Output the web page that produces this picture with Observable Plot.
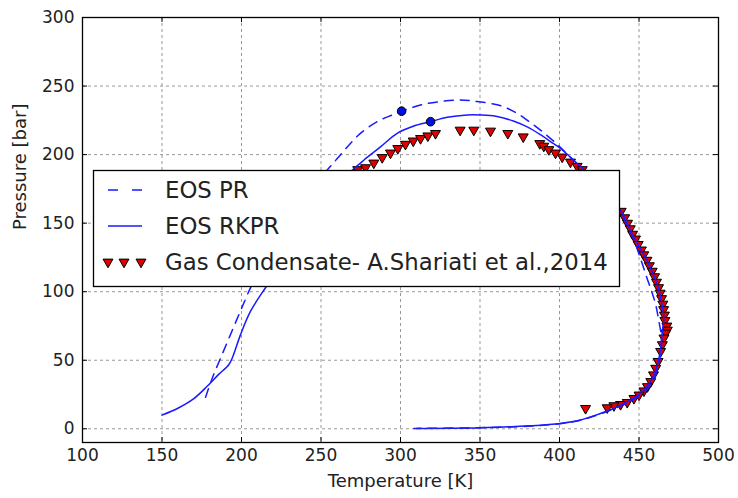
<!DOCTYPE html>
<html><head><meta charset="utf-8">
<script src="https://cdn.jsdelivr.net/npm/d3@7"></script>
<script src="https://cdn.jsdelivr.net/npm/@observablehq/plot@0.6"></script>
<style>body{margin:0;background:#fff}#chart{width:738px;height:498px}</style>
</head><body><div id="chart"></div>
<script>
// Tick values
const xTicks = [100,150,200,250,300,350,400,450,500];
const yTicks = [0,50,100,150,200,250,300];
const xGrid = [150,200,250,300,350,400,450];
const yGrid = [0,50,100,150,200,250];

// EOS PR (dashed) envelope
const prT = [177.4,181.6,187,193,199,205.7,215,228,242,253.9,260.2,266.5,274.8,285.3,294.8,301.1,312.6,325.2,337.7,348.2,362,372,381,390,398,406,414,426,438,446,451,455,458,460.4,462.5,464,464,462.5,460,456,450,443,434,425,413,400,382,350,310];
const prP = [23,36.9,52,68.5,85,103,125,150,172,188.8,197.1,205.6,215.5,224,228.9,231.8,236.2,238.7,239.9,238.7,236,231,224,216,208,199,190,175,158,140,124,110,100,91,78.5,68,58,48,38,30,24,19,14.5,10.5,6.2,3.7,2,0.8,0.3];

// EOS RKPR (solid) envelope
const rkT = [150,160,170,178.4,185.5,192,194.2,199.4,205.7,215.1,230,245,258,269.6,276.9,287.4,297.9,308.4,318.9,329.4,342,350.3,360,371,380,388,395,400.6,406,411.1,417.4,425,432,438.4,446.8,455.1,461.4,464.5,465.6,464.7,463.6,461.6,457.4,451,442.6,434.2,425.8,413.2,400.6,381.8,350.3,308.4];
const rkP = [10,15,22,31,39.5,46.7,51.6,68.7,85.8,102.9,128,155,175,188.6,195.9,205.6,215.5,220.8,224,227.2,228.9,228.9,228,224.5,220,214.5,209,204.5,199,193.5,187,178,168,159.2,139.6,122.5,105.4,90.8,80,71.2,58.9,46.7,34.5,25.9,19.8,14.9,11.2,6.4,3.9,2.2,0.7,0.2];

// Experimental: Gas Condensate - A.Shariati et al., 2014
const expT = [273.1,278,283.2,288.5,293.7,298.3,303.1,308,312.6,317.2,322,337.5,346.1,356.6,367.5,377.2,387.6,390.1,393.3,397.5,401.7,406.9,411.1,414.3,438.8,441,442.8,444.5,446,447.8,449.5,451.5,453,455,456.5,458.3,459.8,461,462.3,463.3,464.2,465,465.5,466,466.3,467.5,467.8,466.8,465.7,464.7,463.6,462,460.5,459.1,457.4,455.3,453.1,450,446.8,442.6,438.4,434.2,430,416.4];
const expP = [189.1,190.5,193.9,197.9,201.2,204.5,207.6,210,211.8,213.7,215.5,217.9,217.9,217.2,215.5,213,208.1,206.2,203.7,201.2,198.3,194.6,191.5,189.1,158.7,154,150,146,142,138.5,134.5,130.5,127,123,119,115,111,107,103,99,95,91,87,83,79,75,72,69.9,66.3,61.4,56.5,49.2,44.2,39.4,34.5,30.8,27.7,24.7,22.2,19.3,17.8,16.9,15.4,14.9];

// Critical points (PR, RKPR)
const critT = [300.7,318.9];
const critP = [231.7,224];

const legendLabels = ["EOS PR","EOS RKPR","Gas Condensate- A.Shariati et al.,2014"];

const pr = prT.map((t,i)=>({t,p:prP[i]}));
const rk = rkT.map((t,i)=>({t,p:rkP[i]}));
const ex = expT.map((t,i)=>({t,p:expP[i]}));
const cr = critT.map((t,i)=>({t,p:critP[i]}));

const blue = "#1a1aff";
const txt = "#222";

const svg = Plot.plot({
  width: 738, height: 498,
  marginLeft: 82, marginRight: 20, marginTop: 17, marginBottom: 56,
  style: {fontFamily: "'DejaVu Sans', sans-serif", fontSize: "17px", color: txt, background: "#fff"},
  x: {domain: [100,500]},
  y: {domain: [-10,300]},
  marks: [
    Plot.gridX(xGrid, {stroke: "#999", strokeOpacity: 1, strokeDasharray: "3,3", strokeWidth: 1}),
    Plot.gridY(yGrid, {stroke: "#999", strokeOpacity: 1, strokeDasharray: "3,3", strokeWidth: 1}),
    Plot.dot(ex, {x: "t", y: "p", symbol: "triangle", rotate: 180, r: 3.7, fill: "#e00000", stroke: "#000", strokeWidth: 1}),
    Plot.line(pr, {x: "t", y: "p", curve: "catmull-rom", stroke: blue, strokeWidth: 1.5, strokeDasharray: "9,7"}),
    Plot.line(rk, {x: "t", y: "p", curve: "catmull-rom", stroke: blue, strokeWidth: 1.5}),
    Plot.dot(cr, {x: "t", y: "p", r: 4.3, fill: "#0010e0", stroke: "#000", strokeWidth: 1}),
    Plot.frame({stroke: "#000", strokeWidth: 1.3}),
    Plot.tickX(xTicks, {x: d => d, stroke: "#000", insetTop: 420}),
    Plot.tickX(xTicks, {x: d => d, stroke: "#000", insetBottom: 420}),
    Plot.tickY(yTicks, {y: d => d, stroke: "#000", insetRight: 631}),
    Plot.tickY(yTicks, {y: d => d, stroke: "#000", insetLeft: 631}),
    Plot.axisX({ticks: xTicks, tickSize: 0, tickPadding: 6, fontSize: 17, label: null, tickFormat: d => String(d)}),
    Plot.axisY({ticks: yTicks, tickSize: 0, tickPadding: 8, fontSize: 17, label: null, tickFormat: d => String(d)}),
    Plot.text(["Temperature [K]"], {text: d => d, frameAnchor: "bottom", dy: 44, fontSize: 18, fill: txt}),
    Plot.text(["Pressure [bar]"], {text: d => d, frameAnchor: "left", dx: -62, rotate: -90, fontSize: 18, fill: txt})
  ]
});

// Legend box drawn over the plot
const g = d3.select(svg).append("g").attr("text-anchor", "start");
g.append("rect").attr("x", 93.5).attr("y", 170.5).attr("width", 526).attr("height", 116)
  .attr("fill", "#fff").attr("stroke", "#000").attr("stroke-width", 1.3);
g.append("line").attr("x1", 108).attr("x2", 142).attr("y1", 190).attr("y2", 190)
  .attr("stroke", blue).attr("stroke-width", 1.5).attr("stroke-dasharray", "10,14");
g.append("line").attr("x1", 108).attr("x2", 142).attr("y1", 226).attr("y2", 226)
  .attr("stroke", blue).attr("stroke-width", 1.5);
const tri = d3.symbol(d3.symbolTriangle, Math.PI * 3.7 * 3.7);
[108, 124, 141].forEach(x => {
  g.append("path").attr("d", tri()).attr("transform", `translate(${x},262) rotate(180)`)
    .attr("fill", "#e00000").attr("stroke", "#000").attr("stroke-width", 1);
});
legendLabels.forEach((s, i) => {
  g.append("text").attr("x", 165).attr("y", [190, 226, 262][i]).attr("dy", "0.36em")
    .attr("text-anchor", "start").attr("font-size", 22.8).attr("fill", txt).text(s);
});

document.getElementById("chart").appendChild(svg);
</script>
</body></html>
